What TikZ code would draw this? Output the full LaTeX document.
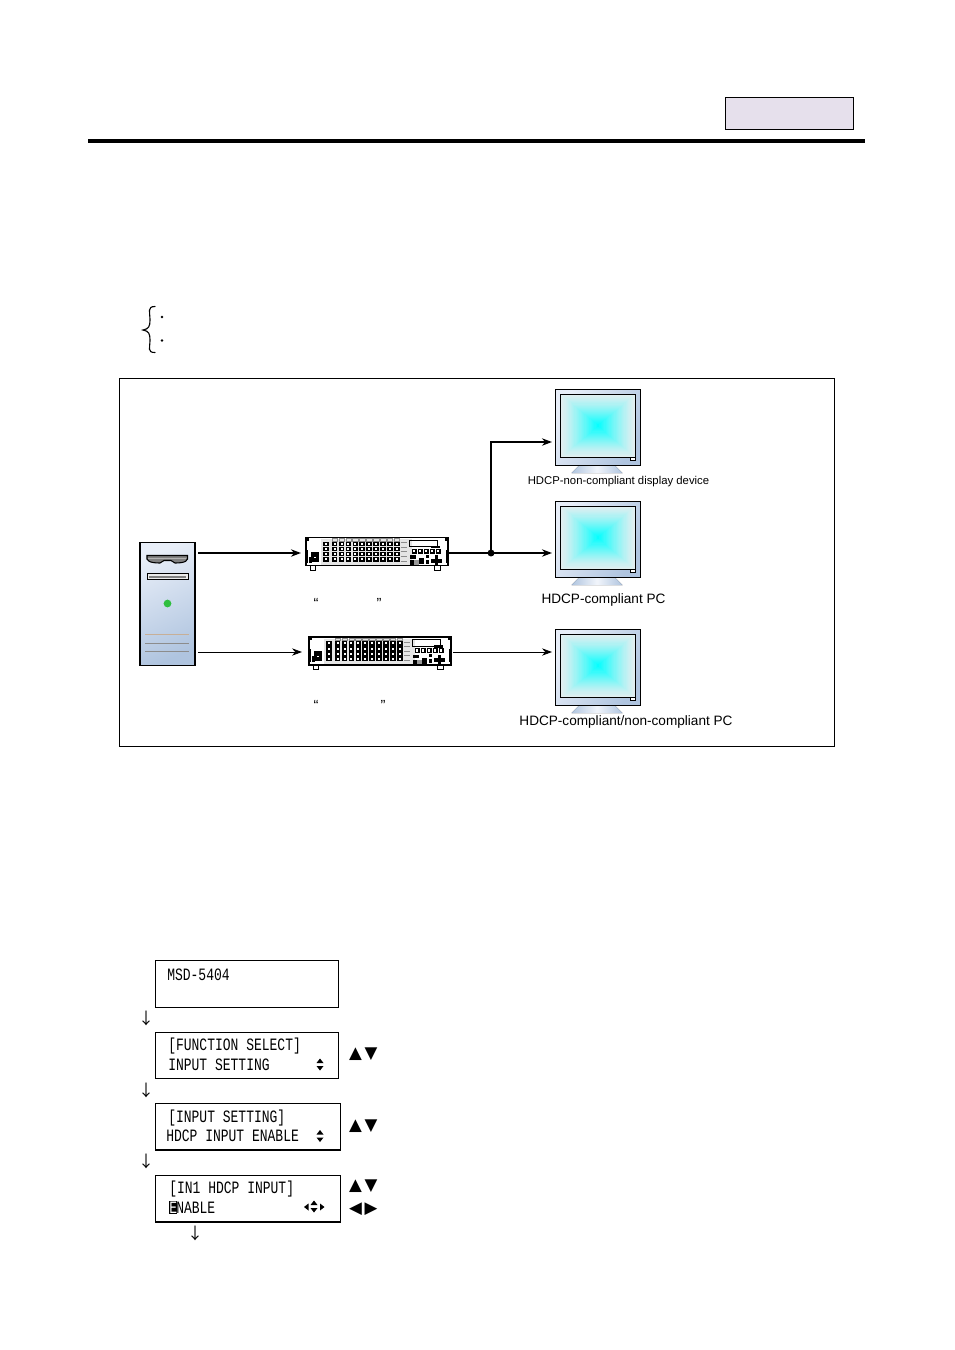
\documentclass[tikz,border=0pt]{standalone}
\usepackage{fontspec}
\setmainfont{Liberation Sans}
\newfontfamily\lcdfont[FakeStretch=0.75]{Liberation Mono}
\newfontfamily\symfont{DejaVu Sans}
\newfontfamily\jpfont{Noto Sans CJK JP}
\usetikzlibrary{arrows.meta,calc}
\definecolor{hdrfill}{HTML}{E6E0EC}
\definecolor{bodyA}{HTML}{E8EEF8}
\definecolor{bodyB}{HTML}{AFC4DF}
\definecolor{scrOut}{HTML}{E2EEF0}
\definecolor{purecyan}{HTML}{00FFFF}
\definecolor{ledgreen}{HTML}{2FBF3F}
\tikzset{
  arr/.style={-{Stealth[length=7.5pt,width=5.5pt]},black},
  arrthick/.style={arr,line width=1.7pt},
  arrthin/.style={arr,line width=0.6pt},
  lcdbox/.style={draw,line width=0.8pt,anchor=north west,inner sep=0pt},
  lcdtext/.style={anchor=west,inner sep=0pt,font=\lcdfont\fontsize{13}{13}\selectfont},
  cap8/.style={anchor=center,inner sep=0pt,font=\fontsize{8.5}{10}\selectfont},
  cap10/.style={anchor=center,inner sep=0pt,font=\fontsize{10.2}{12}\selectfont},
  quote/.style={inner sep=0pt,font=\fontsize{11}{12}\selectfont},
  downarr/.style={inner sep=0pt,font=\jpfont\fontsize{12}{12}\selectfont},
  keytri/.style={inner sep=0pt,font=\symfont\fontsize{12.5}{12}\selectfont},
  monitor/.pic={
    % stand
    \fill[left color=bodyB,right color=bodyB,middle color=bodyA!60!white]
      (24,76) -- (59,76) -- (67,84) -- (16,84) -- cycle;
    \path[draw=black,line width=0.7pt,left color=bodyA,right color=bodyB,shading angle=60] (0,0) rectangle (84.5,76);
    \foreach \i in {0,...,30}{
      \pgfmathsetmacro{\f}{\i/30}
      \pgfmathsetmacro{\p}{100*(\f)^1.25}
      \colorlet{cc}{purecyan!\p!scrOut}
      \fill[cc] ({5+\f*37.5},{5+\f*31.5}) rectangle ({80-\f*37.5},{68.7-\f*31.5});
    }
    \draw[line width=0.7pt] (5,5) rectangle (80,68.7);
    \draw[line width=0.7pt,fill=white] (75,68.7) rectangle (80,71.5);
  },
  rackunit/.pic={
    \draw[line width=0.7pt,fill=white] (4,28) rectangle (9,32.5);
    \draw[line width=0.7pt,fill=white] (128,28) rectangle (134,32.5);
    \draw[line width=0.8pt,fill=white] (0,0) rectangle (142,28);
    \fill (0,0) rectangle (3,3); \fill (139,0) rectangle (142,3);
    \fill (0,12) rectangle (2,25); \fill (140,12) rectangle (142,25);
    % power socket
    \fill (5,14) rectangle (13,24); \fill (3,19) rectangle (6,25);
    \fill[white] (8,19) rectangle (10,20);
    % jack panel
    \fill[black!10] (15,1.5) rectangle (106,27);
    \foreach \r in {0,1,2,3}{
      \fill (17,{4+\r*5.1}) rectangle (23.3,{8.7+\r*5.1});
      \fill[white] (19.2,{5.4+\r*5.1}) rectangle (21.2,{7.4+\r*5.1});
      \foreach \c in {0,...,9}{
        \fill ({25.8+\c*6.9},{4+\r*5.1}) rectangle ({31.4+\c*6.9},{8.7+\r*5.1});
        \fill[white] ({27.6+\c*6.9},{5.4+\r*5.1}) rectangle ({29.6+\c*6.9},{7.4+\r*5.1});
      }
    }
    \foreach \c in {0,...,9}{\draw[black!45,line width=0.4pt] ({26+\c*6.9},1) rectangle ({31.5+\c*6.9},3.4);}
    \foreach \r in {0,...,4}{\draw[black!45,line width=0.5pt] (94.5,{5+\r*4.6}) -- (101,{5+\r*4.6});}
    % control section
    \draw[line width=0.5pt] (103.5,2.8) rectangle (131,9);
    \fill (125,8) rectangle (134,10.5);
    \foreach \c in {0,...,4}{
      \fill ({106+\c*6},11) rectangle ({110.5+\c*6},16);
      \fill[white] ({107.3+\c*6},12.3) rectangle ({109.2+\c*6},14.8);
    }
    \fill (104,17.5) rectangle (110,21); \fill (104,22.5) rectangle (108,27);
    \fill[black!40] (108,22.5) rectangle (113,27);
    \fill (113,20.5) rectangle (117.5,26.5);
    \fill (120,17) rectangle (123,20); \fill (120,22) rectangle (123,26);
    \fill (125,21) rectangle (136,25); \fill (129,17.5) rectangle (132,28);
  },
}
\begin{document}
\begin{tikzpicture}[x=0.75pt,y=-0.75pt]
\useasboundingbox (0,0) rectangle (954,1350);
\fill[white] (0,0) rectangle (954,1350);
% header
\node[draw,line width=0.7pt,fill=hdrfill,minimum width=96pt,minimum height=24pt,inner sep=0pt] (hdr) at (789.5,113.7) {};
\coordinate (ruleL) at (88,141); \coordinate (ruleR) at (865,141);
\draw[line width=3pt] (ruleL) -- (ruleR);
% brace
\draw[line width=0.85pt,line cap=round] (155,306.5) .. controls (147,306.5) and (150,312) .. (150,320) .. controls (150,326) and (149,329) .. (143,330) .. controls (149,331) and (150,334) .. (150,340) .. controls (150,348) and (147,352.5) .. (155,352.5);
\fill (162,317) circle (1pt); \fill (162,340.5) circle (1pt);
% frame
\node[draw,line width=0.7pt,minimum width=536.2pt,minimum height=276pt,inner sep=0pt] (frame) at (477,562.5) {};
% PC tower
\path[draw=black,line width=0.8pt,left color=bodyA,right color=bodyB,shading angle=25] (140,542.5) rectangle (195,665.5);
\node[minimum size=0pt,inner sep=0pt] (pc) at (167.5,604) {};
\draw[line width=0.8pt,fill=black!50] (147,555.5) -- (187.5,555.5) .. controls (189,561) and (185,563) .. (175,563) -- (171,560.5) -- (164,560.5) -- (160,563) .. controls (150,563) and (145.5,561) .. (147,555.5) -- cycle;
\draw[white!70!black,line width=0.6pt] (148,558.5) -- (186,558.5);
\draw[line width=0.8pt,fill=black!8] (147.5,573.5) rectangle (188.5,579.5);
\fill[black!50] (149,575.5) rectangle (186,577.5);
\fill[ledgreen] (167.5,603.5) circle (2.9pt);
\draw[black!25!brown!50,line width=0.5pt] (145,634.5) -- (189,634.5);
\draw[black!45,line width=0.6pt] (145,643.5) -- (189,643.5);
\draw[black!45,line width=0.6pt] (145,651.5) -- (189,651.5);
% racks
\pic at (306,537.5) {rackunit};
\pic at (309,637) {rackunit};
% monitors
\pic at (555.5,389) {monitor};
\pic at (555.5,501) {monitor};
\pic at (555.5,629) {monitor};
% named connector ends
\coordinate (pcA) at (198,553); \coordinate (rackAin) at (301,553);
\coordinate (pcB) at (198,652); \coordinate (rackBin) at (302,652);
\coordinate (rackAout) at (449,553); \coordinate (junc) at (491,553);
\coordinate (bendup) at (491,442); \coordinate (monA) at (552,442);
\coordinate (monB) at (552,553);
\coordinate (rackBout) at (453,652); \coordinate (monC) at (552,652);
\draw[arrthick] (pcA) -- (rackAin);
\draw[arrthin] (pcB) -- (rackBin);
\draw[arrthick] (rackAout) -- (monB);
\draw[arrthick] (junc) -- (bendup) -- (monA);
\draw[arrthin] (rackBout) -- (monC);
\fill (junc) circle (2.6pt);
% captions
\node[cap8] (capA) at (618.5,481.5) {HDCP-non-compliant display device};
\node[cap10] (capB) at (603.5,600) {HDCP-compliant PC};
\node[cap10] (capC) at (626,721.5) {HDCP-compliant/non-compliant PC};
\node[quote] (q1) at (316,603) {“};
\node[quote] (q2) at (379,603) {”};
\node[quote] (q3) at (316,705) {“};
\node[quote] (q4) at (383,705) {”};
% LCD boxes
\node[lcdbox,minimum width=137.6pt,minimum height=35.4pt] (lcdA) at (154.5,959.5) {};
\node[lcdbox,minimum width=137.6pt,minimum height=35pt] (lcdB) at (154.5,1031.5) {};
\node[lcdbox,minimum width=139.1pt,minimum height=35.2pt] (lcdC) at (154.5,1102.5) {};
\node[lcdbox,minimum width=139.1pt,minimum height=35.2pt] (lcdD) at (154.5,1174.5) {};
\node[lcdtext] (t1) at (167,974.5) {MSD-5404};
\node[lcdtext] (t2) at (168,1046.5) {[FUNCTION SELECT]};
\node[lcdtext] (t3) at (168,1065) {INPUT SETTING};
\node[lcdtext] (t4) at (168,1118) {[INPUT SETTING]};
\node[lcdtext] (t5) at (166,1136) {HDCP INPUT ENABLE};
\node[lcdtext] (t6) at (169,1189) {[IN1 HDCP INPUT]};
\fill (169,1201) rectangle (176.5,1214);
\node[lcdtext,text=white] (t7a) at (169,1208) {E};
\node[lcdtext] (t7b) at (176,1208) {NABLE};
% LCD scroll icons
\fill (320,1058.5) -- (323.5,1063) -- (316.5,1063) -- cycle;
\fill (320,1070.5) -- (323.5,1066) -- (316.5,1066) -- cycle;
\fill (320,1130) -- (323.5,1134.5) -- (316.5,1134.5) -- cycle;
\fill (320,1142) -- (323.5,1137.5) -- (316.5,1137.5) -- cycle;
\fill (314,1200.5) -- (317.5,1205) -- (310.5,1205) -- cycle;
\fill (314,1212.5) -- (317.5,1208) -- (310.5,1208) -- cycle;
\fill (304,1207) -- (308.5,1203.5) -- (308.5,1210.5) -- cycle;
\fill (324.5,1207) -- (320,1203.5) -- (320,1210.5) -- cycle;
% down arrows
\node[downarr] (d1) at (146,1018) {↓};
\node[downarr] (d2) at (146,1090) {↓};
\node[downarr] (d3) at (146,1161) {↓};
\node[downarr] (d4) at (195,1233) {↓};
% key triangles
\node[keytri] (k1) at (355.5,1054) {▲};
\node[keytri] (k2) at (371,1054) {▼};
\node[keytri] (k3) at (355.5,1126) {▲};
\node[keytri] (k4) at (371,1126) {▼};
\node[keytri] (k5) at (355.5,1186) {▲};
\node[keytri] (k6) at (371,1186) {▼};
\node[keytri] (k7) at (355.5,1209) {◀};
\node[keytri] (k8) at (371,1209) {▶};
\end{tikzpicture}
\end{document}
